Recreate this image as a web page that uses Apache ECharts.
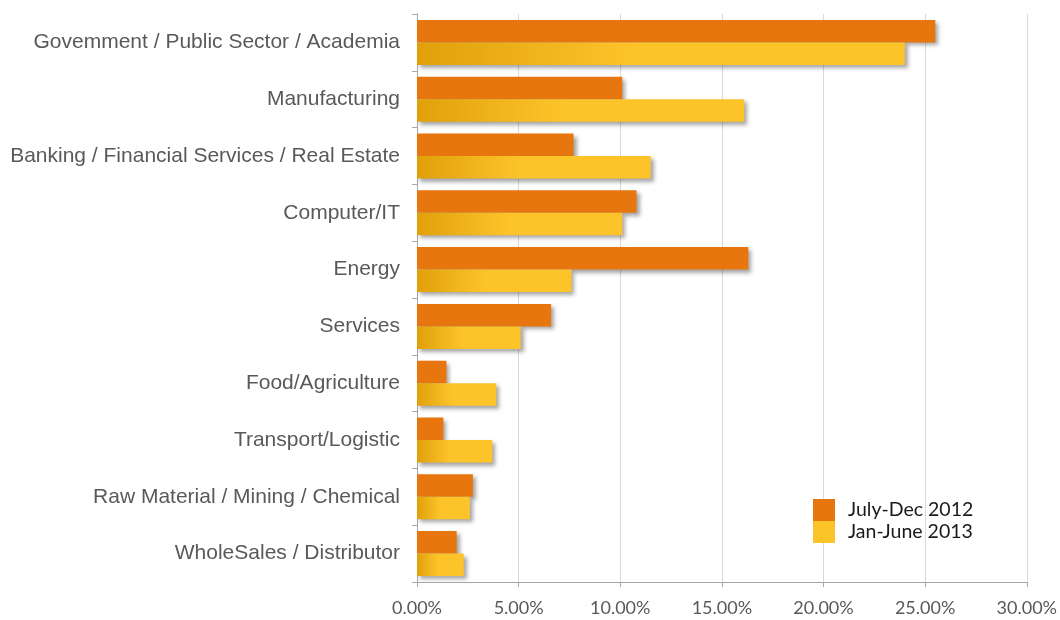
<!DOCTYPE html>
<html>
<head>
<meta charset="utf-8">
<title>Industry share</title>
<script src="https://cdn.jsdelivr.net/npm/echarts@6/dist/echarts.min.js"></script>
<style>
    html, body { margin: 0; padding: 0; background: #fff; }
    #chart { width: 1060px; height: 620px; }
</style>
</head>
<body>
<div id="chart"></div>
<script>
// 行业分类（从上到下）
const categories = [
    'Govemment / Public Sector / Academia',
    'Manufacturing',
    'Banking / Financial Services / Real Estate',
    'Computer/IT',
    'Energy',
    'Services',
    'Food/Agriculture',
    'Transport/Logistic',
    'Raw Material / Mining / Chemical',
    'WholeSales / Distributor'
];
const seriesNames = ['July-Dec 2012', 'Jan-June 2013'];
// 百分比数值
const julyDec2012 = [25.5, 10.1, 7.7, 10.8, 16.3, 6.6, 1.45, 1.3, 2.75, 1.95];
const janJune2013 = [24.0, 16.1, 11.5, 10.1, 7.6, 5.1, 3.9, 3.7, 2.6, 2.3];
const xTicks = [0, 5, 10, 15, 20, 25, 30];

(function() {
    const chart = echarts.init(document.getElementById('chart'));

    const shadow = {
        shadowBlur: 4,
        shadowOffsetX: 3,
        shadowOffsetY: 3,
        shadowColor: 'rgba(0,0,0,0.35)'
    };

    const yellowFill = new echarts.graphic.LinearGradient(0, 0, 1, 0, [
        { offset: 0, color: '#E0A00A' },
        { offset: 0.45, color: '#FDC42A' },
        { offset: 1, color: '#FDC42A' }
    ]);

    const option = {
        animation: false,
        grid: { left: 417, right: 33, top: 14, bottom: 38 },
        legend: {
            orient: 'vertical',
            left: 813,
            top: 499,
            padding: 0,
            itemWidth: 22,
            itemHeight: 22,
            itemGap: 0,
            icon: 'rect',
            textStyle: { fontFamily: 'Lato', fontSize: 19.5, color: '#1a1a1a', padding: [0, 0, 0, 8] },
            data: [
                { name: seriesNames[0], itemStyle: { color: '#E8760F' } },
                { name: seriesNames[1], itemStyle: { color: '#FDC42A' } }
            ]
        },
        xAxis: {
            type: 'value',
            min: xTicks[0],
            max: xTicks[xTicks.length - 1],
            interval: 5,
            axisLine: { show: true, lineStyle: { color: '#A6A6A6' } },
            axisTick: { show: true, length: 5, lineStyle: { color: '#A6A6A6' } },
            splitLine: { show: true, lineStyle: { color: '#D9D9D9' } },
            axisLabel: {
                fontFamily: 'Lato',
                fontSize: 18,
                color: '#595959',
                margin: 17,
                formatter: (v) => v.toFixed(2) + '%'
            }
        },
        yAxis: {
            type: 'category',
            inverse: true,
            data: categories,
            axisLine: { show: true, lineStyle: { color: '#A6A6A6' } },
            axisTick: { show: true, length: 5, lineStyle: { color: '#A6A6A6' } },
            axisLabel: {
                fontFamily: 'Liberation Sans',
                fontSize: 21,
                color: '#595959',
                margin: 17
            }
        },
        series: [
            {
                name: seriesNames[0],
                type: 'bar',
                data: julyDec2012,
                barWidth: 22.5,
                barGap: '0%',
                itemStyle: Object.assign({ color: '#E8760F' }, shadow)
            },
            {
                name: seriesNames[1],
                type: 'bar',
                data: janJune2013,
                barWidth: 22.5,
                barGap: '0%',
                itemStyle: Object.assign({ color: yellowFill }, shadow)
            }
        ]
    };

    chart.setOption(option);
})();
</script>
</body>
</html>
